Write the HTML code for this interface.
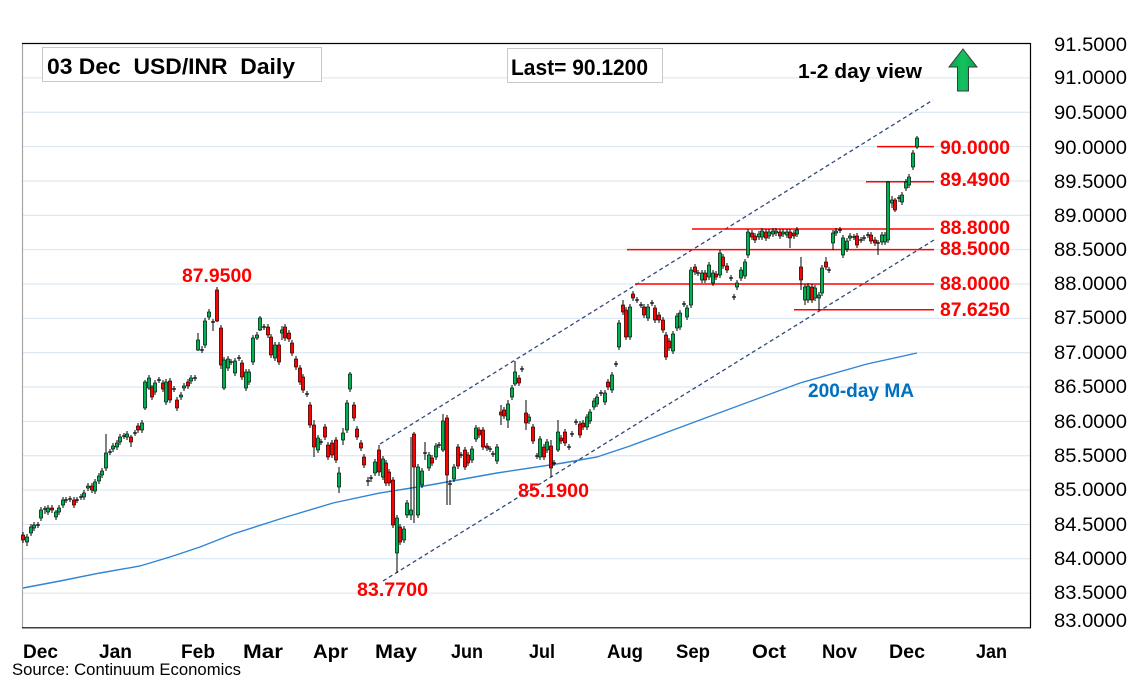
<!DOCTYPE html>
<html><head><meta charset="utf-8"><style>
html,body{margin:0;padding:0;background:#fff;}
svg{display:block;font-family:"Liberation Sans",sans-serif;}
</style></head><body>
<svg id="c" width="1134" height="680" viewBox="0 0 1134 680" xmlns="http://www.w3.org/2000/svg">
<rect x="0" y="0" width="1134" height="680" fill="#fff"/>
<g id="grid" stroke="#D6E4F2" stroke-width="1">
<line x1="23" x2="1030" y1="77.9" y2="77.9"/>
<line x1="23" x2="1030" y1="112.3" y2="112.3"/>
<line x1="23" x2="1030" y1="146.6" y2="146.6"/>
<line x1="23" x2="1030" y1="181" y2="181"/>
<line x1="23" x2="1030" y1="215.3" y2="215.3"/>
<line x1="23" x2="1030" y1="249.6" y2="249.6"/>
<line x1="23" x2="1030" y1="284" y2="284"/>
<line x1="23" x2="1030" y1="318.4" y2="318.4"/>
<line x1="23" x2="1030" y1="352.7" y2="352.7"/>
<line x1="23" x2="1030" y1="387" y2="387"/>
<line x1="23" x2="1030" y1="421.4" y2="421.4"/>
<line x1="23" x2="1030" y1="455.7" y2="455.7"/>
<line x1="23" x2="1030" y1="490" y2="490"/>
<line x1="23" x2="1030" y1="524.5" y2="524.5"/>
<line x1="23" x2="1030" y1="558.8" y2="558.8"/>
<line x1="23" x2="1030" y1="593.1" y2="593.1"/>
</g>
<!-- plot border -->
<line x1="22.5" y1="43" x2="22.5" y2="628" stroke="#A6A6A6" stroke-width="1.2"/>
<line x1="22" y1="43.5" x2="1030.5" y2="43.5" stroke="#000" stroke-width="1.2"/>
<line x1="1030.5" y1="43" x2="1030.5" y2="628" stroke="#000" stroke-width="1.2"/>
<line x1="22" y1="627.8" x2="1031" y2="627.8" stroke="#000" stroke-width="1.2"/>

<!-- 200 MA -->
<polyline fill="none" stroke="#2F84D4" stroke-width="1.4" points="23,588 60,581 100,573 140,566 170,557 200,547 233,534 283,518 333,503 380,493 430,485 497,473 563,463 597,457 630,446 700,420 800,383 867,364 917,353"/>

<!-- channel -->
<g stroke="#30487A" stroke-width="1.3" stroke-dasharray="4,3" fill="none">
<line x1="380" y1="444" x2="933" y2="100"/>
<line x1="383" y1="581" x2="934" y2="240"/>
</g>

<!-- red levels -->
<g stroke="#FF0000" stroke-width="1.5">
<line x1="877" x2="934" y1="146.6" y2="146.6"/>
<line x1="866" x2="934" y1="181.7" y2="181.7"/>
<line x1="692" x2="934" y1="229" y2="229"/>
<line x1="627" x2="934" y1="249.6" y2="249.6"/>
<line x1="635" x2="934" y1="284" y2="284"/>
<line x1="794" x2="934" y1="309.8" y2="309.8"/>
</g>

<g id="candles"></g>

<!-- red labels -->
<g fill="#FF0000" font-weight="bold" font-size="19">
<text x="940" y="154" textLength="70" lengthAdjust="spacingAndGlyphs">90.0000</text>
<text x="940" y="186" textLength="70" lengthAdjust="spacingAndGlyphs">89.4900</text>
<text x="940" y="234" textLength="70" lengthAdjust="spacingAndGlyphs">88.8000</text>
<text x="940" y="255" textLength="70" lengthAdjust="spacingAndGlyphs">88.5000</text>
<text x="940" y="290" textLength="70" lengthAdjust="spacingAndGlyphs">88.0000</text>
<text x="940" y="316" textLength="70" lengthAdjust="spacingAndGlyphs">87.6250</text>
<text x="182" y="282" textLength="70" lengthAdjust="spacingAndGlyphs">87.9500</text>
<text x="357" y="596" textLength="71" lengthAdjust="spacingAndGlyphs">83.7700</text>
<text x="518" y="497" textLength="71" lengthAdjust="spacingAndGlyphs">85.1900</text>
</g>
<text x="808" y="397" fill="#0070C0" font-weight="bold" font-size="19" textLength="106" lengthAdjust="spacingAndGlyphs">200-day MA</text>

<!-- title boxes -->
<rect x="42.5" y="47.5" width="279" height="34" fill="#fff" stroke="#C8C8C8" stroke-width="1"/>
<text x="47" y="74" font-weight="bold" font-size="22" textLength="248" lengthAdjust="spacingAndGlyphs" xml:space="preserve">03 Dec  USD/INR  Daily</text>
<rect x="507.5" y="48.5" width="155" height="34" fill="#fff" stroke="#C8C8C8" stroke-width="1"/>
<text x="511" y="75" font-weight="bold" font-size="22" textLength="137" lengthAdjust="spacingAndGlyphs">Last= 90.1200</text>
<text x="798" y="78" font-weight="bold" font-size="20" textLength="124" lengthAdjust="spacingAndGlyphs">1-2 day view</text>

<!-- arrow -->
<defs><linearGradient id="ag" x1="0" y1="0" x2="1" y2="0">
<stop offset="0" stop-color="#00A84A"/><stop offset="0.5" stop-color="#16C060"/><stop offset="1" stop-color="#00A84A"/></linearGradient></defs>
<polygon points="963,49 977,67 968.5,67 968.5,91 957.5,91 957.5,67 949,67" fill="url(#ag)" stroke="#3A3A3A" stroke-width="1"/>

<!-- y axis labels -->
<g font-size="19" fill="#000">
<text x="1054" y="51" textLength="73" lengthAdjust="spacingAndGlyphs">91.5000</text>
<text x="1054" y="84" textLength="73" lengthAdjust="spacingAndGlyphs">91.0000</text>
<text x="1054" y="119" textLength="73" lengthAdjust="spacingAndGlyphs">90.5000</text>
<text x="1054" y="154" textLength="73" lengthAdjust="spacingAndGlyphs">90.0000</text>
<text x="1054" y="188" textLength="73" lengthAdjust="spacingAndGlyphs">89.5000</text>
<text x="1054" y="222" textLength="73" lengthAdjust="spacingAndGlyphs">89.0000</text>
<text x="1054" y="256" textLength="73" lengthAdjust="spacingAndGlyphs">88.5000</text>
<text x="1054" y="290" textLength="73" lengthAdjust="spacingAndGlyphs">88.0000</text>
<text x="1054" y="324" textLength="73" lengthAdjust="spacingAndGlyphs">87.5000</text>
<text x="1054" y="359" textLength="73" lengthAdjust="spacingAndGlyphs">87.0000</text>
<text x="1054" y="393" textLength="73" lengthAdjust="spacingAndGlyphs">86.5000</text>
<text x="1054" y="428" textLength="73" lengthAdjust="spacingAndGlyphs">86.0000</text>
<text x="1054" y="462" textLength="73" lengthAdjust="spacingAndGlyphs">85.5000</text>
<text x="1054" y="496" textLength="73" lengthAdjust="spacingAndGlyphs">85.0000</text>
<text x="1054" y="531" textLength="73" lengthAdjust="spacingAndGlyphs">84.5000</text>
<text x="1054" y="565" textLength="73" lengthAdjust="spacingAndGlyphs">84.0000</text>
<text x="1054" y="599" textLength="73" lengthAdjust="spacingAndGlyphs">83.5000</text>
<text x="1054" y="627" textLength="73" lengthAdjust="spacingAndGlyphs">83.0000</text>
</g>

<!-- month labels -->
<g font-size="19" font-weight="bold" fill="#000">
<text x="23" y="658" textLength="35" lengthAdjust="spacingAndGlyphs">Dec</text>
<text x="99" y="658" textLength="33" lengthAdjust="spacingAndGlyphs">Jan</text>
<text x="181" y="658" textLength="34" lengthAdjust="spacingAndGlyphs">Feb</text>
<text x="243" y="658" textLength="40" lengthAdjust="spacingAndGlyphs">Mar</text>
<text x="313" y="658" textLength="35" lengthAdjust="spacingAndGlyphs">Apr</text>
<text x="375" y="658" textLength="42" lengthAdjust="spacingAndGlyphs">May</text>
<text x="451" y="658" textLength="32" lengthAdjust="spacingAndGlyphs">Jun</text>
<text x="529" y="658" textLength="26" lengthAdjust="spacingAndGlyphs">Jul</text>
<text x="607" y="658" textLength="36" lengthAdjust="spacingAndGlyphs">Aug</text>
<text x="676" y="658" textLength="34" lengthAdjust="spacingAndGlyphs">Sep</text>
<text x="752" y="658" textLength="34" lengthAdjust="spacingAndGlyphs">Oct</text>
<text x="822" y="658" textLength="35" lengthAdjust="spacingAndGlyphs">Nov</text>
<text x="889" y="658" textLength="36" lengthAdjust="spacingAndGlyphs">Dec</text>
<text x="976" y="658" textLength="31" lengthAdjust="spacingAndGlyphs">Jan</text>
</g>
<text x="12" y="675" font-size="17" fill="#000" textLength="229" lengthAdjust="spacingAndGlyphs">Source: Continuum Economics</text>
</svg>
<script>
(function(){
var D="23,535,540,r,532,543;27,537,542,g,534,546;31,527,533,g;34,525,528,g;38,525,525,d;41,510,518,g;45,509,511,d;48,508,512,g;52,508,510,r;56,512,517,g,510,520;59,508,512,g;63,500,505,g;66,500,500,d;70,499,499,d;74,500,505,r;77,500,500,d;81,497,497,d;84,493,497,g;88,486,488,g;92,486,490,r;95,482,491,g;99,476,481,g;102,471,475,g;106,453,468,g,434,471;110,452,452,d;113,446,449,g;117,443,447,g;120,437,442,g;124,436,436,d;127,434,437,g;131,437,442,r,435,447;135,433,433,d;138,426,430,r;142,423,430,g;145,382,408,g,380,410;149,378,388,g,375,390;152,387,397,r,385,400;155,383,392,g;159,380,380,d;163,383,389,r;166,382,402,g;170,381,400,r;174,389,389,d;177,400,408,r,397,411;181,395,397,g;184,386,388,g;188,382,386,r;191,378,381,g;195,378,378,d;198,340,350,g,333,351;202,350,350,d,346,353;205,321,345,g;209,312,317,g;213,322,322,d,319,331;217,290,321,r,287,322;221,328,365,r,325,369;224,360,388,g,357,390;228,359,368,g;231,362,362,d;235,361,373,g;239,358,358,d;242,363,377,r;246,372,388,g;249,372,382,g;253,338,362,g;257,335,338,g,332,340;260,318,330,g,316,331;264,327,327,d;268,327,335,r;271,337,355,r;275,345,358,g;279,345,362,r;282,330,333,g,326,340;285,327,338,r;289,333,339,r;292,343,353,r;296,359,367,r;300,368,382,r;303,377,390,r;307,394,394,d;310,405,425,r;314,425,447,r,420,457;318,438,450,g;321,442,442,d;325,427,437,r;328,445,457,r;332,443,455,r;336,440,460,r;339,473,487,g,467,493;343,433,440,g,428,445;347,403,430,g;350,374,389,g,372,392;354,405,418,r;357,429,437,r;361,443,448,r;364,457,465,r;368,481,481,d,477,486;371,478,478,d,475,482;375,462,473,g;379,450,472,r,445,476;383,459,477,g;386,463,483,r;389,472,483,r;393,480,525,r;397,518,553,g,515,573;400,527,542,r;404,529,540,g;407,503,515,g;411,510,515,g,437,520;414,434,467,r,432,523;418,467,515,g;422,471,485,g;425,453,453,d,442,460;429,455,468,g;432,458,463,r;436,446,457,g;439,445,445,d;443,421,450,g,414,452;447,418,475,r,415,505;450,484,484,d,480,505;454,467,479,g;458,447,466,r;461,455,455,d;465,450,467,r;468,455,463,r;472,449,460,g;476,428,439,g;479,430,435,r;483,430,447,r;487,446,448,r;490,449,449,d;493,454,454,d;497,447,461,g;501,412,415,r,405,425;504,410,416,r;508,404,420,g,400,428;512,388,397,g;515,372,384,g,361,386;519,378,383,r;522,369,369,d;526,413,423,r,400,430;529,417,421,g;533,427,441,r;537,456,456,d;540,439,457,g;544,447,457,r;547,442,450,g;551,446,468,r,440,477;554,463,463,d;558,432,450,g,420,452;561,438,441,r;565,432,443,r;569,447,447,d;572,434,434,d;576,422,422,d;580,424,435,r;583,423,427,r;587,417,427,g;590,412,421,g;594,401,407,g;597,397,404,g;601,393,393,d;605,393,402,g;608,382,387,r;612,375,390,g;616,364,364,d;619,323,347,g;623,305,312,r,300,315;626,310,337,r;630,307,337,g;633,294,298,r;637,300,300,d;641,305,305,d;644,307,315,r;648,307,318,g;652,303,303,d;655,308,320,r;659,315,320,r;663,320,330,r;666,335,357,r;669,341,348,r;673,334,351,g;677,316,328,g;680,313,327,g;684,304,304,d;687,308,317,g;691,270,305,g;695,267,272,r;698,273,273,d;702,273,280,g;705,273,280,r;709,265,277,g;713,273,283,g;716,274,277,r;720,253,275,g;723,257,266,r;727,266,270,r;731,278,278,d;734,297,297,d;737,283,287,g;741,270,278,g;745,262,276,g;748,232,255,g;752,233,237,r;755,236,240,r;759,234,237,g;762,231,237,g;766,232,238,r;769,232,236,g;773,231,234,g;776,231,233,g;780,232,236,r;783,232,234,g;787,232,235,g;790,232,238,r,229,248;794,233,236,r;797,230,234,g;801,267,280,r,257,290;805,287,300,g,284,305;808,286,300,g;812,287,300,r;815,288,298,g;819,295,298,g,292,310;822,268,293,g;826,262,267,r,257,270;829,270,270,d;833,233,243,g,230,250;836,231,233,g;840,230,230,d;843,238,255,g;847,241,249,g;850,236,238,g;854,237,237,d;857,236,245,r;861,240,240,d;864,238,238,d;868,235,235,d;871,235,241,r;875,240,243,r;878,243,243,d,240,255;882,235,242,g;885,235,242,g;888,182,240,g,181,243;892,200,203,g,196,208;895,200,210,r,198,212;899,198,198,d,195,202;902,195,202,g;906,182,188,g;909,177,185,g;913,153,167,g,150,170;917,138,147,g,136,149";
var g=document.getElementById("candles");
var out="";
D.split(";").forEach(function(s){
  var p=s.split(","),x=+p[0],t=+p[1],b=+p[2],c=p[3];
  var wt=p.length>4?+p[4]:t-3,wb=p.length>5?+p[5]:b+3;
  out+='<line x1="'+x+'" x2="'+x+'" y1="'+wt+'" y2="'+wb+'" stroke="#000" stroke-width="1"/>';
  if(c==="d"||b-t<1.5){
    out+='<line x1="'+(x-2)+'" x2="'+(x+2)+'" y1="'+t+'" y2="'+t+'" stroke="#000" stroke-width="1.2"/>';
  } else {
    out+='<rect x="'+(x-1.6)+'" y="'+t+'" width="3.2" height="'+(b-t)+'" fill="'+(c==="g"?"#00B050":"#FF0000")+'" stroke="#000" stroke-width="0.6"/>';
  }
});
g.innerHTML=out;
})();
</script>
</body></html>
